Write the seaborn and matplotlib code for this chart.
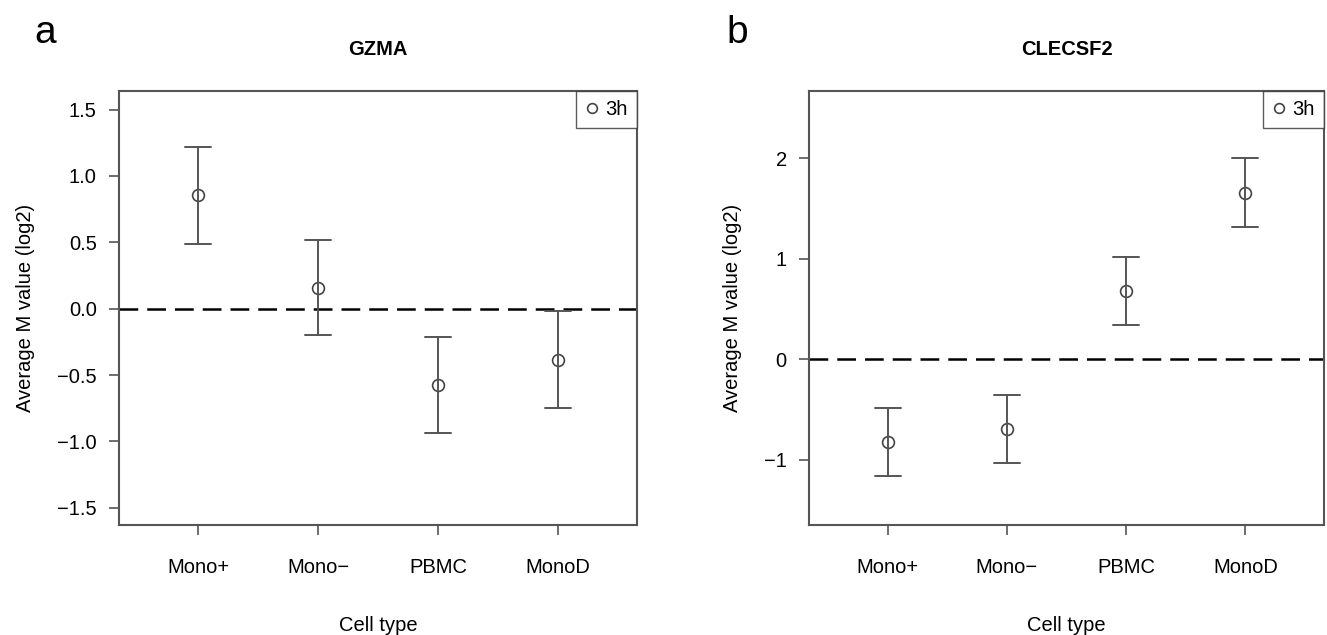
import pandas as pd
import matplotlib
matplotlib.use("Agg")
import matplotlib.pyplot as plt
from matplotlib.lines import Line2D
import seaborn as sns

# values (mean and error bar ends, log2 M value)
cell_types = ["Mono+", "Mono\u2212", "PBMC", "MonoD"]

gzma_mean = [0.855, 0.157, -0.574, -0.387]
gzma_low = [0.486, -0.20, -0.935, -0.746]
gzma_high = [1.22, 0.52, -0.21, -0.017]

clec_mean = [-0.825, -0.696, 0.68, 1.657]
clec_low = [-1.165, -1.033, 0.34, 1.32]
clec_high = [-0.485, -0.353, 1.017, 2.0]

gzma_ticks = [-1.5, -1.0, -0.5, 0.0, 0.5, 1.0, 1.5]
clec_ticks = [-1, 0, 1, 2]


def long_table(mean, low, high):
    # three rows per cell type: median = mean, min/max = bar ends
    rows = []
    for c, m, lo, hi in zip(cell_types, mean, low, high):
        rows += [(c, lo), (c, m), (c, hi)]
    return pd.DataFrame(rows, columns=["cell", "value"])


sns.set_style("ticks")
plt.rcParams["font.family"] = ["Liberation Sans", "DejaVu Sans"]
plt.rcParams["text.color"] = "black"
plt.rcParams["axes.labelcolor"] = "black"
plt.rcParams["xtick.labelcolor"] = "black"
plt.rcParams["ytick.labelcolor"] = "black"

fig = plt.figure(figsize=(13.27, 6.35), dpi=100)
ax1 = fig.add_axes([119 / 1327, 1 - 525 / 635, 518 / 1327, 434 / 635])
ax2 = fig.add_axes([809 / 1327, 1 - 525 / 635, 515 / 1327, 434 / 635])

panels = [
    (ax1, long_table(gzma_mean, gzma_low, gzma_high), "GZMA", "a", gzma_ticks, (-1.63, 1.64), "{:.1f}"),
    (ax2, long_table(clec_mean, clec_low, clec_high), "CLECSF2", "b", clec_ticks, (-1.65, 2.67), "{:d}"),
]

for ax, df, title, letter, ticks, ylim, fmt in panels:
    sns.pointplot(data=df, x="cell", y="value", order=cell_types,
                  estimator="median", errorbar=("pi", 100),
                  linestyle="none", marker="o", markersize=8.5,
                  markerfacecolor="none", markeredgecolor="#444444",
                  markeredgewidth=1.2, color="#555555", capsize=0.22,
                  err_kws={"linewidth": 1.4}, ax=ax)
    ax.axhline(0, color="black", lw=1.8, ls=(0, (7.5, 3.6)), zorder=0)
    ax.set_xlim(-0.66, 3.66)
    ax.set_ylim(*ylim)
    ax.set_yticks(ticks)
    ax.set_yticklabels([fmt.format(t).replace("-", "\u2212") for t in ticks])
    ax.tick_params(axis="both", direction="out", length=7, width=1.2,
                   color="#555555", labelsize=14.5, pad=6)
    ax.tick_params(axis="y", pad=9)
    ax.tick_params(axis="x", pad=17)
    for s in ax.spines.values():
        s.set_visible(True)
        s.set_color("#555555")
        s.set_linewidth(1.5)
    ax.set_xlabel("Cell type", fontsize=14.5, labelpad=28)
    ax.set_ylabel("Average M value (log2)", fontsize=14.5, labelpad=16)
    ax.set_title(title, fontsize=14.5, fontweight="bold", pad=26)
    handle = Line2D([], [], marker="o", ls="none", mfc="none", mec="#444444", ms=7, mew=1.2)
    leg = ax.legend([handle], ["3h"], loc="upper right", frameon=True, fancybox=False,
                    borderaxespad=0, fontsize=14.5, handlelength=0.7, handletextpad=0.3,
                    borderpad=0.45)
    leg.get_frame().set_edgecolor("#333333")
    leg.get_frame().set_linewidth(1.0)

fig.text(45 / 1327, 1 - 33 / 635, "a", fontsize=28, ha="center", va="center")
fig.text(737 / 1327, 1 - 33 / 635, "b", fontsize=28, ha="center", va="center")

fig.savefig("out.png", dpi=100)
